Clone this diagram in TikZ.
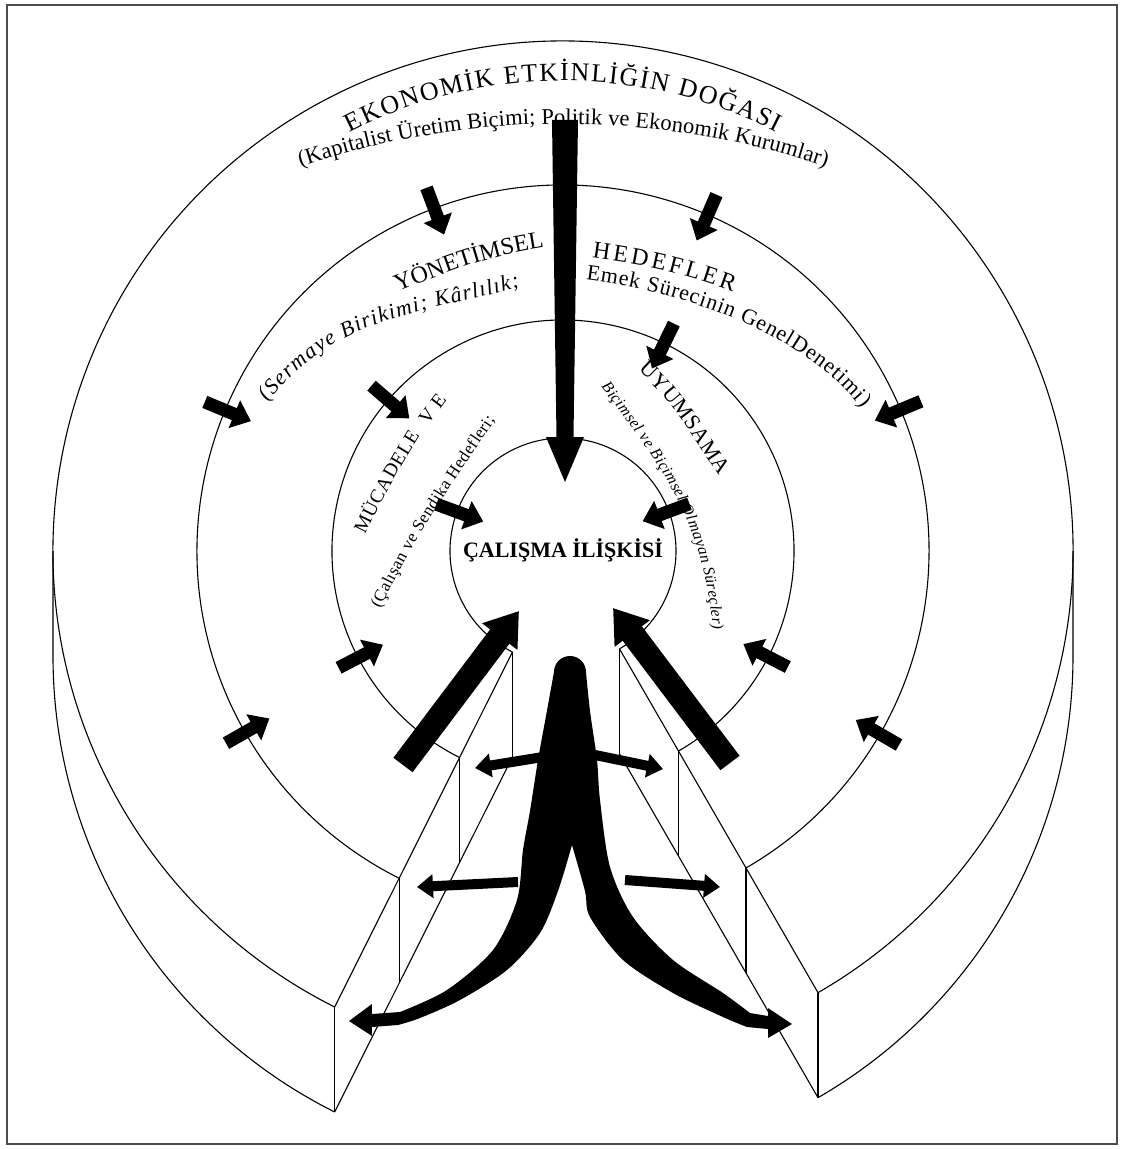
\documentclass[tikz,border=0pt]{standalone}
\usepackage{fontspec}
\setmainfont{Liberation Serif}
\usepackage{tikz}
\usetikzlibrary{arrows.meta,decorations.text}
\newcommand\txtbig{\fontsize{26}{26}\selectfont}
\newcommand\txtsub{\fontsize{22.5}{22.5}\selectfont}
\newcommand\txtmid{\fontsize{24}{24}\selectfont}
\newcommand\txtemk{\fontsize{22}{22}\selectfont}
\newcommand\txtsm{\fontsize{19.5}{19.5}\selectfont}
\newcommand\txtcal{\fontsize{17}{17}\selectfont}
\newcommand\txtit{\itshape\fontsize{22}{22}\selectfont}
\newcommand\txtnar{\itshape\fontsize{16}{16}\selectfont}
\tikzset{
  ring/.style={line width=1.1pt, black},
  frame/.style={line width=1.2pt, black!70},
  ringarr/.style={line width=13pt, -{Triangle[length=18pt,width=29pt]}},
  bigarr/.style={line width=24pt, -{Triangle[length=32pt,width=42pt]}},
  sidearr/.style={line width=10pt, -{Triangle[length=16pt,width=23pt]}},
  arctext/.style={decorate, decoration={text along path, text align={fit to path}, text={#1}}},
  title/.style={font=\bfseries\fontsize{22}{22}\selectfont, inner sep=0pt}
}

\begin{document}
\begin{tikzpicture}[x=1pt,y=1pt]
    \useasboundingbox (-563,-598) rectangle (559,551);
    \draw[frame] (-556,546) rectangle (554,-593);
    \coordinate (O) at (0,0);
    % top faces of the rings
    \foreach \R in {510,366,231,113}
      \draw[ring] (300:\R) arc[start angle=300, end angle=603.4, radius=\R];
    % outer side of the slab
    \draw[ring] (180:510) -- ++(0,-105) arc[start angle=180, end angle=243.4, radius=510];
    \draw[ring] (0:510) -- ++(0,-105) arc[start angle=360, end angle=300, radius=510];
    % cut faces
    \foreach \a in {243.4,300} {
      \draw[ring] (\a:113) -- (\a:510);
      \draw[ring] ([yshift=-105pt]\a:113) -- ([yshift=-105pt]\a:510);
      \foreach \R in {113,231,366,510} \draw[ring] (\a:\R) -- ++(0,-105);
    }

    \path[arctext={|\txtbig|EKONOMİK ETKİNLİĞİN DOĞASI}]
      (117:470) arc[start angle=117, end angle=63, radius=470];
    \path[arctext={|\txtsub|(Kapitalist Üretim Biçimi; Politik ve Ekonomik Kurumlar)}]
      ([shift={(0,-400)}]108.5:827) arc[start angle=108.5, end angle=71.5, radius=827];
    \path[arctext={|\txtmid|YÖNETİMSEL}] (-165,259) to[out=22,in=189] (-21,303);
    \path[arctext={|\txtit|(Sermaye Birikimi; Kârlılık;}] (-295,149) to[out=52,in=195] (-43,264);
    \path[arctext={|\txtmid|HEDEFLER}] (29,293) to[out=-8,in=160] (170,259);
    \path[arctext={|\txtemk|Emek Sürecinin GenelDenetimi)}]
      (23,271) .. controls (117,259) and (237,221) .. (299,143);
    \path[arctext={|\txtsm|MÜCADELE}] (-198,16) to[out=64,in=238] (-143,116);
    \path[arctext={|\txtsm|VE}] (-135,126) -- (-116,151);
    \path[arctext={|\txtcal|(Çalışan ve Sendika Hedefleri;}] (-183,-58) to[out=64,in=236] (-68,131);
    \path[arctext={|\txtemk|UYUMSAMA}] (75,181) to[out=-42,in=125] (157,75);
    \path[arctext={|\txtnar|Biçimsel ve Biçimsel Olmayan Süreçler)}] (38,164) to[out=-52,in=95] (150,-79);
    \node[title] (calisma) at (0,1) {ÇALIŞMA İLİŞKİSİ};

    % arrows
    \fill (-11,431) -- (15,431) -- (10.5,114) -- (21,114) -- (2,69) -- (-17,114) -- (-6.5,114) -- cycle;
    \foreach \R/\a in {366/110.6, 366/66.7, 366/157.4, 366/22.7, 366/209.7, 366/330,
                       231/139.2, 231/64, 231/207.5, 231/332.7, 113/159.7, 113/20.5}
      \draw[ringarr] (\a:{\R+22}) -- (\a:{\R-28});
    \draw[bigarr] (-160,-214) -- (-44,-60);
    \draw[bigarr] (167,-212) -- (50,-57);

    \fill (23,-121) arc[start angle=0, end angle=180, radius=16]
      -- plot[smooth] coordinates {(-9,-121) (-17,-165) (-25,-209) (-33,-260) (-40,-299)
                                   (-46,-349) (-70,-399) (-116,-439) (-163,-461)}
      -- (-191,-463) -- (-191,-453) -- (-214,-470) -- (-191,-485) -- (-191,-476) -- (-165,-474)
      -- plot[smooth] coordinates {(-165,-474) (-143,-467) (-103,-449) (-56,-419) (-23,-382)
                                   (-5,-340) (9,-294)}
      -- plot[smooth] coordinates {(9,-294) (22,-340) (27,-366) (60,-409) (110,-442)
                                   (160,-466) (184,-476)}
      -- (205,-478) -- (205,-487) -- (229,-473) -- (205,-457) -- (205,-465) -- (187,-462)
      -- plot[smooth] coordinates {(187,-462) (160,-442) (110,-409) (70,-366) (47,-316)
                                   (37,-249) (34,-209) (27,-160) (23,-121)}
      -- cycle;
    \draw[sidearr] (-20,-206) -- (-88,-217);
    \draw[sidearr] (32,-204) -- (100,-218);
    \draw[sidearr] (-45,-331) -- (-146,-336);
    \draw[sidearr] (62,-329) -- (157,-336);
\end{tikzpicture}
\end{document}
